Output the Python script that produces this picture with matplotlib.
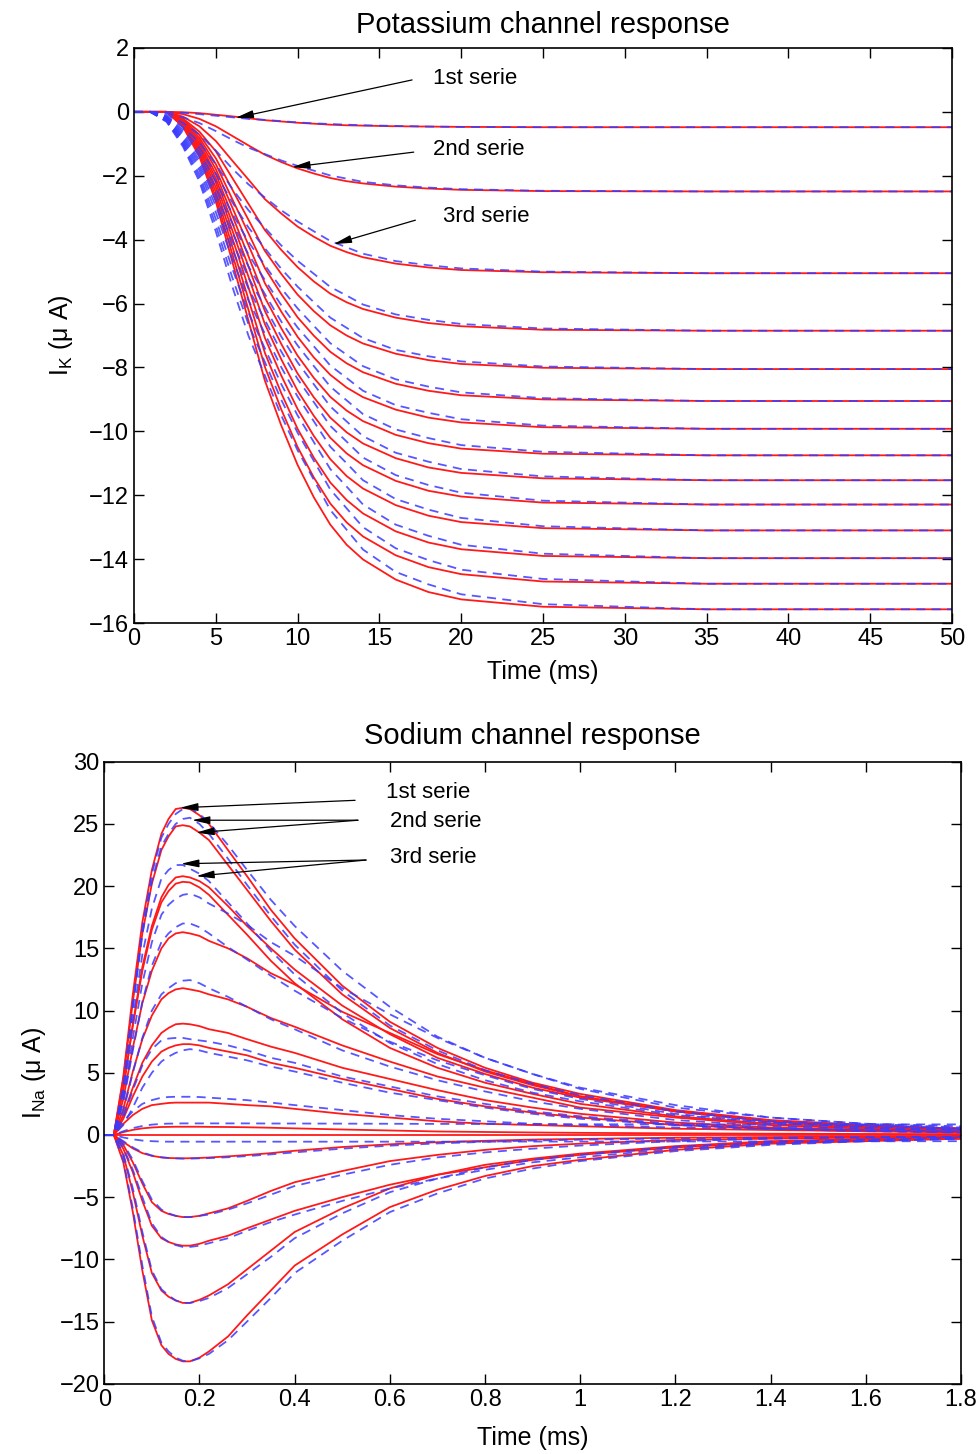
import matplotlib
matplotlib.use('Agg')
import matplotlib.pyplot as plt

plt.rcParams['font.family'] = ['Liberation Sans', 'DejaVu Sans']
plt.rcParams['mathtext.fontset'] = 'custom'
plt.rcParams['mathtext.rm'] = 'Liberation Sans'

# ---- potassium channel ----
t_k = [0, 2, 3, 4, 5, 6, 7, 8, 9, 10, 11, 12, 13, 14, 16, 18, 20, 25, 35, 50]
k_red = [
    [0, 0, -0.01, -0.04, -0.09, -0.14, -0.20, -0.26, -0.30, -0.34, -0.37, -0.40, -0.42, -0.43, -0.45, -0.46, -0.47, -0.48, -0.48, -0.48],
    [0, 0, -0.07, -0.22, -0.45, -0.75, -1.05, -1.34, -1.57, -1.77, -1.93, -2.07, -2.17, -2.24, -2.34, -2.40, -2.44, -2.48, -2.49, -2.49],
    [0, 0, -0.15, -0.45, -0.91, -1.52, -2.12, -2.73, -3.18, -3.59, -3.91, -4.19, -4.39, -4.55, -4.75, -4.87, -4.95, -5.02, -5.05, -5.05],
    [0, 0, -0.21, -0.62, -1.23, -2.06, -2.88, -3.70, -4.32, -4.86, -5.31, -5.69, -5.96, -6.17, -6.44, -6.61, -6.71, -6.82, -6.85, -6.85],
    [0, 0, -0.24, -0.72, -1.45, -2.42, -3.38, -4.35, -5.07, -5.72, -6.24, -6.68, -7.00, -7.25, -7.57, -7.77, -7.89, -8.01, -8.05, -8.05],
    [0, 0, -0.27, -0.81, -1.63, -2.72, -3.80, -4.89, -5.70, -6.43, -7.01, -7.51, -7.87, -8.15, -8.51, -8.73, -8.87, -9.00, -9.05, -9.05],
    [0, 0, -0.30, -0.89, -1.79, -2.98, -4.17, -5.36, -6.25, -7.04, -7.69, -8.23, -8.63, -8.93, -9.32, -9.57, -9.72, -9.87, -9.92, -9.92],
    [0, 0, -0.32, -0.97, -1.94, -3.23, -4.52, -5.81, -6.77, -7.63, -8.33, -8.92, -9.35, -9.68, -10.11, -10.37, -10.54, -10.70, -10.75, -10.75],
    [0, 0, -0.35, -1.04, -2.08, -3.46, -4.84, -6.23, -7.26, -8.19, -8.94, -9.57, -10.03, -10.38, -10.84, -11.13, -11.30, -11.47, -11.53, -11.53],
    [0, 0, -0.37, -1.11, -2.21, -3.69, -5.16, -6.64, -7.74, -8.73, -9.52, -10.20, -10.69, -11.06, -11.55, -11.86, -12.04, -12.23, -12.29, -12.29],
    [0, 0, -0.39, -1.18, -2.36, -3.93, -5.50, -7.07, -8.25, -9.30, -10.15, -10.87, -11.40, -11.79, -12.31, -12.64, -12.84, -13.03, -13.10, -13.10],
    [0, 0, -0.42, -1.26, -2.51, -4.19, -5.87, -7.54, -8.80, -9.92, -10.83, -11.60, -12.15, -12.57, -13.13, -13.48, -13.69, -13.90, -13.97, -13.97],
    [0, 0, -0.44, -1.33, -2.66, -4.43, -6.20, -7.98, -9.31, -10.49, -11.45, -12.26, -12.85, -13.29, -13.88, -14.25, -14.47, -14.70, -14.77, -14.77],
    [0, 0, -0.47, -1.40, -2.80, -4.67, -6.54, -8.41, -9.81, -11.05, -12.07, -12.92, -13.55, -14.01, -14.64, -15.03, -15.26, -15.49, -15.57, -15.57],
]
t_kb = [0, 1, 2, 3, 4, 5, 6, 7, 8, 9, 10, 11, 12, 13, 14, 16, 18, 20, 25, 35, 50]
k_blue = [
    [0, 0, -0.01, -0.03, -0.07, -0.12, -0.17, -0.22, -0.25, -0.29, -0.33, -0.36, -0.38, -0.40, -0.42, -0.44, -0.46, -0.47, -0.48, -0.48, -0.48],
    [0, 0, -0.05, -0.17, -0.35, -0.60, -0.87, -1.12, -1.32, -1.52, -1.69, -1.84, -1.99, -2.09, -2.19, -2.30, -2.37, -2.42, -2.47, -2.49, -2.49],
    [0, 0, -0.10, -0.35, -0.71, -1.21, -1.77, -2.27, -2.68, -3.08, -3.43, -3.74, -4.04, -4.24, -4.44, -4.67, -4.80, -4.90, -5.00, -5.05, -5.05],
    [0, 0, -0.14, -0.48, -0.96, -1.64, -2.40, -3.08, -3.63, -4.18, -4.66, -5.07, -5.48, -5.75, -6.03, -6.34, -6.51, -6.64, -6.78, -6.85, -6.85],
    [0, 0, -0.16, -0.56, -1.13, -1.93, -2.82, -3.62, -4.27, -4.91, -5.47, -5.96, -6.44, -6.76, -7.08, -7.45, -7.65, -7.81, -7.97, -8.05, -8.05],
    [0, 0, -0.18, -0.63, -1.27, -2.17, -3.17, -4.07, -4.80, -5.52, -6.15, -6.70, -7.24, -7.60, -7.96, -8.37, -8.60, -8.78, -8.96, -9.05, -9.05],
    [0, 0, -0.20, -0.69, -1.39, -2.38, -3.47, -4.46, -5.26, -6.05, -6.75, -7.34, -7.94, -8.33, -8.73, -9.18, -9.42, -9.62, -9.82, -9.92, -9.92],
    [0, 0, -0.22, -0.75, -1.51, -2.58, -3.76, -4.84, -5.70, -6.56, -7.31, -7.96, -8.60, -9.03, -9.46, -9.94, -10.21, -10.43, -10.64, -10.75, -10.75],
    [0, 0, -0.23, -0.81, -1.61, -2.77, -4.04, -5.19, -6.11, -7.03, -7.84, -8.53, -9.22, -9.69, -10.15, -10.67, -10.95, -11.18, -11.41, -11.53, -11.53],
    [0, 0, -0.25, -0.86, -1.72, -2.95, -4.30, -5.53, -6.51, -7.50, -8.36, -9.09, -9.83, -10.32, -10.82, -11.37, -11.68, -11.92, -12.17, -12.29, -12.29],
    [0, 0, -0.26, -0.92, -1.83, -3.14, -4.59, -5.90, -6.94, -7.99, -8.91, -9.69, -10.48, -11.00, -11.53, -12.12, -12.45, -12.71, -12.97, -13.10, -13.10],
    [0, 0, -0.28, -0.98, -1.96, -3.35, -4.89, -6.29, -7.40, -8.52, -9.50, -10.34, -11.18, -11.73, -12.29, -12.92, -13.27, -13.55, -13.83, -13.97, -13.97],
    [0, 0, -0.30, -1.03, -2.07, -3.55, -5.17, -6.65, -7.83, -9.01, -10.04, -10.93, -11.82, -12.41, -13.00, -13.66, -14.03, -14.33, -14.62, -14.77, -14.77],
    [0, 0, -0.31, -1.09, -2.18, -3.74, -5.45, -7.01, -8.25, -9.50, -10.59, -11.52, -12.46, -13.08, -13.70, -14.40, -14.79, -15.10, -15.41, -15.57, -15.57],
]

# ---- sodium channel ----
t_na = [0, 0.02, 0.04, 0.06, 0.08, 0.10, 0.12, 0.135, 0.15, 0.165, 0.18, 0.20, 0.22,
        0.26, 0.30, 0.35, 0.40, 0.50, 0.60, 0.70, 0.80, 0.90, 1.0, 1.2, 1.4, 1.6, 1.8]
na_red = [
    [0, 0, 4.7, 11.3, 17.1, 21.3, 24.2, 25.4, 26.2, 26.3, 26.2, 25.7, 25.0, 22.9, 20.8, 18.1, 15.8, 12.0, 9.1, 7.0, 5.4, 4.2, 3.3, 2.0, 1.2, 0.8, 0.5],
    [0, 0, 4.5, 10.7, 16.2, 20.2, 22.9, 24.0, 24.8, 24.9, 24.8, 24.3, 23.7, 21.7, 19.7, 17.2, 14.9, 11.3, 8.6, 6.6, 5.1, 4.0, 3.1, 1.9, 1.1, 0.7, 0.5],
    [0, 0, 3.7, 8.9, 13.5, 16.8, 19.1, 20.1, 20.7, 20.8, 20.7, 20.4, 19.9, 18.4, 16.8, 15.0, 13.3, 10.4, 8.1, 6.2, 4.9, 3.8, 3.0, 1.9, 1.1, 0.7, 0.5],
    [0, 0, 3.7, 8.8, 13.2, 16.5, 18.7, 19.6, 20.2, 20.35, 20.3, 19.9, 19.3, 17.7, 16.1, 14.0, 12.2, 9.3, 7.0, 5.4, 4.2, 3.3, 2.5, 1.5, 0.9, 0.6, 0.4],
    [0, 0, 2.9, 7.0, 10.6, 13.2, 15.0, 15.8, 16.2, 16.3, 16.2, 16.0, 15.6, 15.0, 14.2, 13.0, 12.1, 9.9, 8.2, 6.5, 5.2, 4.1, 3.1, 1.9, 1.1, 0.7, 0.5],
    [0, 0, 2.1, 5.1, 7.7, 9.6, 10.9, 11.4, 11.7, 11.8, 11.7, 11.55, 11.3, 10.9, 10.3, 9.4, 8.7, 7.2, 5.9, 4.7, 3.8, 3.0, 2.2, 1.4, 0.8, 0.5, 0.4],
    [0, 0, 1.6, 3.8, 5.8, 7.2, 8.2, 8.6, 8.9, 8.95, 8.9, 8.75, 8.5, 8.2, 7.7, 7.1, 6.6, 5.4, 4.5, 3.6, 2.8, 2.2, 1.7, 1.0, 0.6, 0.4, 0.3],
    [0, 0, 1.3, 3.1, 4.7, 5.9, 6.7, 7.0, 7.2, 7.3, 7.3, 7.2, 7.0, 6.7, 6.4, 5.8, 5.4, 4.5, 3.7, 2.9, 2.3, 1.8, 1.4, 0.8, 0.5, 0.3, 0.2],
    [0, 0, 0.9, 1.6, 2.1, 2.4, 2.5, 2.57, 2.6, 2.6, 2.6, 2.6, 2.6, 2.5, 2.4, 2.3, 2.1, 1.7, 1.4, 1.1, 0.9, 0.8, 0.7, 0.5, 0.4, 0.3, 0.3],
    [0, 0, 0.23, 0.41, 0.53, 0.60, 0.64, 0.65, 0.66, 0.66, 0.66, 0.66, 0.65, 0.64, 0.62, 0.58, 0.53, 0.44, 0.36, 0.28, 0.24, 0.20, 0.17, 0.13, 0.10, 0.08, 0.07],
    [0, 0, 0, 0, 0, 0, 0, 0, 0, 0, 0, 0, 0, 0, 0, 0, 0, 0, 0, 0, 0, 0, 0, 0, 0, 0, 0],
    [0, 0, -0.56, -1.08, -1.46, -1.68, -1.80, -1.85, -1.87, -1.88, -1.87, -1.85, -1.81, -1.72, -1.61, -1.46, -1.27, -0.97, -0.75, -0.58, -0.47, -0.37, -0.32, -0.22, -0.17, -0.13, -0.11],
    [0, 0, -0.8, -2.2, -3.9, -5.4, -6.1, -6.35, -6.5, -6.6, -6.6, -6.5, -6.3, -5.9, -5.3, -4.5, -3.8, -2.9, -2.1, -1.6, -1.2, -0.9, -0.7, -0.4, -0.3, -0.2, -0.1],
    [0, 0, -1.1, -3.0, -5.3, -7.3, -8.3, -8.6, -8.8, -8.9, -8.9, -8.75, -8.5, -8.1, -7.5, -6.8, -6.1, -5.0, -4.0, -3.2, -2.6, -2.0, -1.6, -1.0, -0.6, -0.4, -0.3],
    [0, 0, -1.6, -4.6, -8.1, -11.1, -12.5, -13.0, -13.3, -13.5, -13.5, -13.25, -12.9, -12.0, -10.8, -9.3, -7.8, -5.9, -4.3, -3.2, -2.4, -1.9, -1.5, -0.9, -0.5, -0.3, -0.2],
    [0, 0, -2.2, -6.2, -10.9, -14.9, -16.9, -17.6, -18.0, -18.2, -18.2, -17.9, -17.4, -16.2, -14.5, -12.5, -10.5, -8.0, -5.8, -4.4, -3.3, -2.5, -2.0, -1.2, -0.7, -0.5, -0.3],
]
na_blue = [
    [0, 0, 3.9, 10.5, 16.6, 21.0, 23.9, 25.0, 25.8, 26.2, 26.3, 25.8, 25.1, 23.3, 21.3, 18.9, 16.8, 13.2, 10.3, 7.9, 6.2, 4.9, 3.8, 2.4, 1.4, 0.9, 0.7],
    [0, 0, 3.8, 10.2, 16.1, 20.4, 23.2, 24.2, 25.0, 25.4, 25.5, 25.0, 24.2, 22.2, 20.1, 17.6, 15.3, 11.6, 8.8, 6.8, 5.2, 4.1, 3.2, 1.9, 1.1, 0.8, 0.5],
    [0, 0, 3.5, 9.3, 14.5, 18.2, 20.6, 21.3, 21.7, 21.7, 21.4, 21.0, 20.4, 18.7, 17.0, 14.8, 12.9, 9.8, 7.4, 5.7, 4.4, 3.4, 2.7, 1.6, 1.0, 0.6, 0.4],
    [0, 0, 2.9, 7.8, 12.2, 15.5, 17.7, 18.5, 19.0, 19.3, 19.4, 19.1, 18.6, 17.8, 16.9, 15.5, 14.4, 11.8, 9.7, 7.8, 6.2, 4.9, 3.7, 2.2, 1.4, 0.9, 0.6],
    [0, 0, 2.6, 6.8, 10.7, 13.6, 15.5, 16.2, 16.7, 17.0, 17.0, 16.7, 16.2, 15.1, 14.1, 12.8, 11.6, 9.4, 7.5, 6.0, 4.8, 3.7, 2.9, 1.7, 1.0, 0.7, 0.5],
    [0, 0, 1.9, 5.0, 7.8, 10.0, 11.3, 11.8, 12.2, 12.4, 12.45, 12.2, 11.8, 11.1, 10.3, 9.3, 8.5, 6.8, 5.5, 4.4, 3.5, 2.7, 2.1, 1.2, 0.7, 0.5, 0.4],
    [0, 0, 1.4, 3.6, 5.6, 6.9, 7.6, 7.75, 7.8, 7.8, 7.7, 7.6, 7.5, 7.2, 6.8, 6.2, 5.8, 4.7, 3.9, 3.1, 2.5, 1.9, 1.5, 0.9, 0.5, 0.35, 0.2],
    [0, 0, 0.8, 2.2, 3.8, 5.0, 5.9, 6.3, 6.6, 6.8, 6.9, 6.8, 6.6, 6.3, 6.0, 5.5, 5.1, 4.2, 3.4, 2.8, 2.2, 1.7, 1.3, 0.8, 0.5, 0.3, 0.2],
    [0, 0, 1.1, 1.9, 2.5, 2.8, 3.0, 3.05, 3.07, 3.07, 3.07, 3.05, 3.0, 2.9, 2.8, 2.6, 2.4, 2.0, 1.6, 1.3, 1.1, 0.9, 0.8, 0.6, 0.5, 0.4, 0.3],
    [0, 0, 0.3, 0.55, 0.72, 0.83, 0.89, 0.91, 0.92, 0.93, 0.93, 0.93, 0.93, 0.93, 0.93, 0.92, 0.92, 0.91, 0.90, 0.89, 0.88, 0.87, 0.86, 0.85, 0.85, 0.85, 0.85],
    [0, 0, -0.2, -0.35, -0.45, -0.50, -0.53, -0.54, -0.54, -0.54, -0.54, -0.54, -0.54, -0.54, -0.54, -0.54, -0.54, -0.54, -0.54, -0.54, -0.54, -0.53, -0.53, -0.52, -0.52, -0.51, -0.5],
    [0, 0, -0.5, -1.0, -1.4, -1.65, -1.8, -1.85, -1.88, -1.9, -1.9, -1.88, -1.86, -1.79, -1.7, -1.56, -1.4, -1.1, -0.86, -0.68, -0.55, -0.45, -0.38, -0.28, -0.22, -0.18, -0.15],
    [0, 0, -0.7, -2.0, -3.7, -5.2, -6.0, -6.3, -6.5, -6.6, -6.6, -6.5, -6.4, -6.0, -5.5, -4.8, -4.1, -3.2, -2.4, -1.8, -1.4, -1.1, -0.85, -0.5, -0.3, -0.2, -0.15],
    [0, 0, -1.0, -2.8, -5.0, -7.1, -8.2, -8.6, -8.85, -9.0, -9.0, -8.9, -8.7, -8.3, -7.7, -7.0, -6.4, -5.3, -4.3, -3.5, -2.8, -2.2, -1.8, -1.1, -0.7, -0.45, -0.3],
    [0, 0, -1.5, -4.3, -7.8, -10.9, -12.4, -12.9, -13.3, -13.5, -13.5, -13.35, -13.1, -12.3, -11.2, -9.8, -8.3, -6.3, -4.6, -3.5, -2.6, -2.0, -1.6, -0.95, -0.6, -0.35, -0.2],
    [0, 0, -2.0, -5.9, -10.5, -14.6, -16.7, -17.4, -17.9, -18.15, -18.2, -17.95, -17.6, -16.5, -15.0, -13.1, -11.1, -8.5, -6.2, -4.7, -3.5, -2.7, -2.1, -1.3, -0.8, -0.5, -0.3],
]
na_xticks = [0, 0.2, 0.4, 0.6, 0.8, 1.0, 1.2, 1.4, 1.6, 1.8]
na_xlabels = ['0', '0.2', '0.4', '0.6', '0.8', '1', '1.2', '1.4', '1.6', '1.8']

red = '#ff1a1a'
blue = '#3a3aff'
arrow = dict(arrowstyle='-|>,head_length=0.6,head_width=0.13', color='black',
             lw=0.9, mutation_scale=18, shrinkA=0, shrinkB=0)

fig = plt.figure(figsize=(9.8, 14.54), dpi=100)
ax1 = fig.add_axes([0.1367, 0.5715, 0.8347, 0.3955])
ax2 = fig.add_axes([0.1064, 0.0483, 0.8742, 0.4278])

# top panel
for ys in k_red:
    ax1.plot(t_k, ys, color=red, lw=1.3)
for ys in k_blue:
    ax1.plot(t_kb, ys, color=blue, lw=1.3, ls='--', dashes=(5, 3.5), alpha=0.85)
ax1.set_xlim(0, 50)
ax1.set_ylim(-16, 2)
ax1.set_xticks(range(0, 51, 5))
ax1.set_yticks(range(-16, 3, 2))
ax1.set_title('Potassium channel response', fontsize=21, pad=11)
ax1.set_xlabel('Time (ms)', fontsize=18, labelpad=7)
ax1.set_ylabel(r'$\mathregular{I_K}$ (μ A)', fontsize=18, labelpad=10)

ax1.annotate('', xy=(6.2, -0.19), xytext=(17.0, 1.0), arrowprops=arrow)
ax1.text(18.3, 1.03, '1st serie', fontsize=16, va='center')
ax1.annotate('', xy=(9.66, -1.73), xytext=(17.1, -1.26), arrowprops=arrow)
ax1.text(18.3, -1.19, '2nd serie', fontsize=16, va='center')
ax1.annotate('', xy=(12.2, -4.14), xytext=(17.2, -3.39), arrowprops=arrow)
ax1.text(18.9, -3.26, '3rd serie', fontsize=16, va='center')

# bottom panel
for ys in na_red:
    ax2.plot(t_na, ys, color=red, lw=1.3)
for ys in na_blue:
    ax2.plot(t_na, ys, color=blue, lw=1.3, ls='--', dashes=(5, 3.5), alpha=0.85)
ax2.set_xlim(0, 1.8)
ax2.set_ylim(-20, 30)
ax2.set_xticks(na_xticks)
ax2.set_xticklabels(na_xlabels)
ax2.set_yticks(range(-20, 31, 5))
ax2.set_title('Sodium channel response', fontsize=21, pad=13)
ax2.set_xlabel('Time (ms)', fontsize=18, labelpad=11)
ax2.set_ylabel(r'$\mathregular{I_{Na}}$ (μ A)', fontsize=18, labelpad=8)

ax2.annotate('', xy=(0.159, 26.3), xytext=(0.527, 26.9), arrowprops=arrow)
ax2.text(0.592, 27.5, '1st serie', fontsize=16, va='center')
ax2.annotate('', xy=(0.184, 25.3), xytext=(0.533, 25.3), arrowprops=arrow)
ax2.annotate('', xy=(0.193, 24.3), xytext=(0.533, 25.3), arrowprops=arrow)
ax2.text(0.6, 25.2, '2nd serie', fontsize=16, va='center')
ax2.annotate('', xy=(0.161, 21.8), xytext=(0.55, 22.1), arrowprops=arrow)
ax2.annotate('', xy=(0.193, 20.8), xytext=(0.55, 22.1), arrowprops=arrow)
ax2.text(0.6, 22.3, '3rd serie', fontsize=16, va='center')

for ax in (ax1, ax2):
    ax.tick_params(direction='in', top=True, right=True, length=7, width=1,
                   labelsize=17)
    for sp in ax.spines.values():
        sp.set_linewidth(1.2)

fig.savefig('out.png', dpi=100)
